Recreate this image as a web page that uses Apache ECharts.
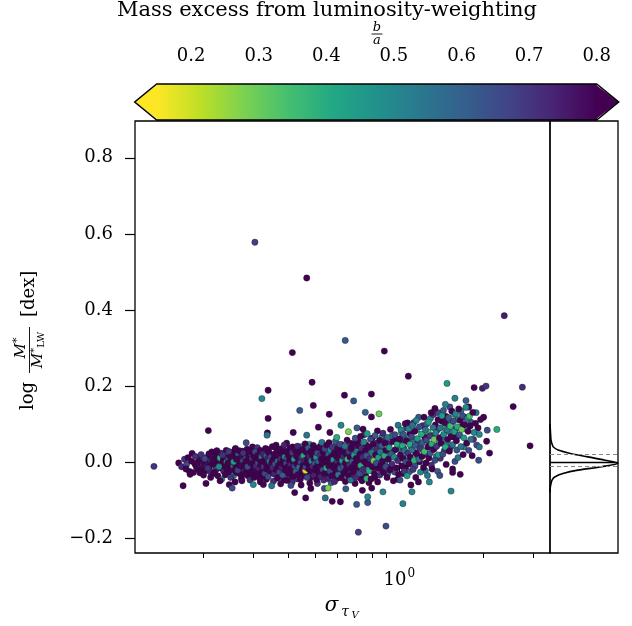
<!DOCTYPE html>
<html><head><meta charset="utf-8">
<script src="https://cdn.jsdelivr.net/npm/echarts@6/dist/echarts.min.js"></script>
<style>html,body{margin:0;padding:0;background:#fff}#c{width:632px;height:626px}</style>
</head><body><div id="c"></div>
<script>
// ---------- data (sigma_tauV, log M*/M*_LW, b/a) ----------
const outliers = [
[0.305,0.578,0.68],[0.467,0.484,0.88],[2.37,0.385,0.75],[0.641,0.320,0.62],[0.415,0.288,0.88],
[0.884,0.292,0.88],[0.488,0.210,0.88],[1.077,0.226,0.88],[1.48,0.207,0.45],[1.85,0.196,0.88],
[1.98,0.194,0.75],[2.04,0.200,0.70],[2.75,0.197,0.72],[0.340,0.189,0.88],[0.323,0.167,0.50],
[0.637,0.176,0.88],[0.795,0.179,0.88],[0.687,0.161,0.62],[0.441,0.136,0.62],[0.493,0.149,0.88],
[0.340,0.115,0.88],[0.562,0.126,0.88],[0.756,0.131,0.60],[0.846,0.127,0.30],[0.795,0.119,0.88],
[2.55,0.146,0.88],[2.93,0.043,0.88],[2.23,0.086,0.40],[0.208,0.083,0.86],[0.133,-0.011,0.70],
[0.169,-0.062,0.88],[0.204,-0.056,0.89],[0.714,-0.184,0.68],[0.896,-0.168,0.65],[1.53,-0.076,0.50],
[1.03,-0.109,0.52],[1.11,-0.078,0.50],[0.874,-0.078,0.50],[0.704,-0.111,0.62],[0.771,-0.106,0.62],
[0.576,-0.103,0.88],[0.616,-0.104,0.88],[0.544,-0.094,0.55],[0.463,-0.094,0.88],[0.423,-0.080,0.86],
[0.338,0.077,0.88],[0.337,0.071,0.55],[0.514,0.092,0.88],[0.619,0.097,0.50],[0.658,0.080,0.28],
[0.706,0.090,0.62],[0.742,0.087,0.88],[0.835,0.082,0.88],[0.990,0.097,0.55],[1.07,0.103,0.88],
[1.58,0.168,0.52],[1.73,0.162,0.62],[1.46,0.152,0.52],[1.73,0.144,0.50],[2.00,0.118,0.88],
[0.284,0.051,0.66],[0.260,0.036,0.88]
];
const bandLow = [
[0.163,-0.002,0.88],[0.167,-0.012,0.73],[0.174,-0.006,0.66],[0.178,-0.024,0.90],[0.179,-0.032,0.84],
[0.182,0.023,0.86],[0.181,0.003,0.92],[0.186,-0.004,0.82],[0.188,-0.011,0.90],[0.191,-0.018,0.87],
[0.193,0.007,0.80],[0.195,-0.009,0.72],[0.197,-0.017,0.91],[0.199,0.012,0.73],[0.201,0.000,0.86],
[0.203,-0.022,0.83],[0.205,0.001,0.90],[0.206,-0.008,0.78],[0.208,0.015,0.88],[0.210,-0.013,0.92],
[0.211,-0.025,0.73],[0.213,0.004,0.70],[0.214,0.027,0.87],[0.215,-0.004,0.84],[0.217,-0.030,0.89],
[0.218,0.009,0.91],[0.220,0.016,0.83],[0.221,-0.010,0.86],[0.222,-0.019,0.66],[0.224,0.002,0.88],
[0.225,-0.036,0.90],[0.226,0.020,0.80],[0.228,-0.003,0.93],[0.229,0.011,0.40],[0.230,-0.015,0.87],
[0.231,0.024,0.73],[0.232,-0.045,0.55],[0.233,-0.007,0.82],[0.235,0.005,0.89],[0.236,-0.024,0.74],
[0.237,0.014,0.86],[0.238,-0.001,0.91],[0.240,-0.012,0.88],[0.241,0.031,0.84],[0.242,0.001,0.40],
[0.243,-0.020,0.86],[0.245,0.008,0.68],[0.246,-0.029,0.90],[0.247,-0.059,0.87],[0.248,0.018,0.89],
[0.249,-0.005,0.73],[0.250,-0.014,0.92],[0.251,0.004,0.80],[0.253,-0.068,0.66],[0.253,-0.022,0.88],
[0.254,0.026,0.87],[0.255,-0.009,0.60],[0.256,-0.035,0.55],[0.257,0.010,0.90],[0.258,-0.002,0.84],
[0.259,0.033,0.88],[0.260,-0.018,0.86],[0.261,0.003,0.72],[0.262,-0.027,0.89],[0.263,0.016,0.83],
[0.264,-0.007,0.91],[0.266,0.021,0.62],[0.267,-0.013,0.87],[0.268,0.007,0.73],[0.270,-0.031,0.88],
[0.271,-0.001,0.90],[0.272,0.013,0.78],[0.273,-0.043,0.86],[0.274,-0.020,0.84],[0.275,0.029,0.89],
[0.276,0.002,0.66],[0.278,-0.010,0.92],[0.279,0.019,0.87],[0.280,-0.024,0.73],[0.282,-0.004,0.88],
[0.283,0.008,0.50],[0.285,-0.016,0.86],[0.286,0.034,0.90],[0.288,-0.036,0.83],[0.289,0.000,0.89],
[0.290,0.015,0.86],[0.292,-0.008,0.74],[0.293,-0.027,0.88],[0.294,0.023,0.91],[0.296,0.005,0.73],
[0.297,0.023,0.40],[0.298,-0.015,0.87],[0.299,0.040,0.86]
];
const bandMid = [
[0.301,-0.059,0.50],[0.302,-0.004,0.88],[0.304,0.012,0.86],[0.305,-0.021,0.90],[0.306,0.027,0.67],
[0.308,-0.010,0.72],[0.309,0.003,0.89],[0.310,-0.033,0.87],[0.312,0.018,0.91],[0.313,-0.002,0.66],
[0.315,-0.016,0.74],[0.316,0.008,0.88],[0.318,-0.044,0.86],[0.319,0.031,0.90],[0.320,-0.007,0.83],
[0.322,0.014,0.55],[0.323,-0.025,0.88],[0.325,0.001,0.92],[0.326,0.022,0.74],[0.327,-0.059,0.87],
[0.328,-0.012,0.70],[0.330,0.006,0.89],[0.331,-0.030,0.67],[0.333,0.036,0.86],[0.334,-0.003,0.90],
[0.335,0.016,0.62],[0.336,-0.018,0.87],[0.339,0.009,0.74],[0.340,-0.038,0.66],[0.342,0.025,0.88],
[0.343,-0.008,0.91],[0.345,0.002,0.45],[0.346,-0.022,0.86],[0.348,0.013,0.67],[0.350,-0.062,0.55],
[0.350,-0.001,0.89],[0.352,0.041,0.87],[0.353,-0.014,0.72],[0.355,0.007,0.90],[0.357,-0.031,0.74],
[0.358,0.020,0.88],[0.360,0.040,0.87],[0.360,-0.005,0.65],[0.362,0.011,0.86],[0.364,-0.019,0.92],
[0.365,0.029,0.83],[0.367,-0.042,0.88],[0.368,0.003,0.60],[0.370,-0.010,0.89],[0.371,0.017,0.86],
[0.373,-0.026,0.67],[0.375,0.034,0.90],[0.376,-0.001,0.87],[0.377,-0.057,0.88],[0.378,0.009,0.72],
[0.380,-0.015,0.74],[0.382,0.022,0.91],[0.383,-0.034,0.62],[0.385,0.005,0.88],[0.387,-0.006,0.86],
[0.388,0.045,0.74],[0.390,0.014,0.50],[0.392,-0.021,0.89],[0.393,0.028,0.87],[0.395,-0.003,0.67],
[0.397,-0.048,0.90],[0.398,0.010,0.66],[0.400,-0.012,0.88],[0.402,0.019,0.86],[0.404,-0.029,0.91],
[0.405,0.004,0.80],[0.407,0.036,0.87],[0.409,-0.007,0.74],[0.410,-0.061,0.66],[0.411,0.013,0.89],
[0.413,-0.017,0.86],[0.415,0.025,0.70],[0.417,-0.038,0.88],[0.418,0.078,0.87],[0.419,0.001,0.90],
[0.421,0.008,0.45],[0.423,-0.011,0.67],[0.425,0.031,0.88],[0.427,-0.024,0.62],[0.429,0.016,0.89],
[0.431,-0.004,0.86],[0.433,0.042,0.74],[0.435,-0.033,0.88],[0.437,0.006,0.91],[0.439,-0.014,0.55],
[0.441,0.022,0.87],[0.443,-0.045,0.86],[0.445,0.000,0.67],[0.447,0.012,0.72],[0.449,-0.020,0.88],
[0.451,0.033,0.90],[0.453,-0.008,0.86],[0.455,0.017,0.40],[0.457,-0.030,0.89],[0.459,0.004,0.74],
[0.461,0.048,0.87],[0.462,-0.022,0.18],[0.463,-0.013,0.66],[0.465,0.026,0.86],[0.467,0.071,0.55],
[0.467,-0.002,0.91],[0.469,-0.040,0.67],[0.471,0.009,0.87],[0.473,0.037,0.62],[0.475,-0.018,0.88],
[0.477,0.015,0.74],[0.479,-0.055,0.86],[0.481,-0.006,0.90],[0.483,-0.069,0.88],[0.483,0.028,0.83],
[0.485,0.003,0.50],[0.487,-0.025,0.87],[0.489,0.020,0.89],[0.491,-0.011,0.72],[0.493,0.044,0.86],
[0.495,-0.035,0.74],[0.497,0.008,0.90],[0.499,-0.003,0.64],[0.501,0.031,0.87],[0.503,-0.016,0.88],
[0.505,0.013,0.45],[0.507,-0.046,0.86],[0.509,0.024,0.67],[0.511,-0.008,0.89],[0.514,0.002,0.60],
[0.516,-0.027,0.87],[0.518,0.039,0.86],[0.520,-0.012,0.90],[0.523,0.018,0.72],[0.525,-0.038,0.74],
[0.527,0.007,0.88],[0.529,0.052,0.55],[0.531,-0.004,0.87],[0.533,-0.020,0.66],[0.535,0.026,0.89],
[0.538,0.011,0.86],[0.540,-0.069,0.66],[0.540,-0.030,0.88],[0.542,0.035,0.67],[0.544,-0.007,0.90],
[0.547,0.017,0.87],[0.549,-0.015,0.40],[0.551,0.045,0.88],[0.553,0.003,0.86],[0.556,-0.043,0.74],
[0.557,-0.068,0.28],[0.558,0.021,0.62],[0.560,-0.010,0.89],[0.563,0.009,0.87],[0.565,0.078,0.86],
[0.565,-0.024,0.67],[0.568,0.032,0.50],[0.570,-0.002,0.88],[0.572,0.014,0.90],[0.575,-0.036,0.86],
[0.577,0.040,0.70],[0.580,-0.013,0.87],[0.582,0.006,0.45],[0.585,0.024,0.88],[0.587,-0.051,0.74],
[0.590,-0.006,0.89],[0.592,0.055,0.62],[0.595,0.016,0.86],[0.598,0.065,0.40],[0.598,-0.021,0.87],
[0.600,0.003,0.72],[0.603,0.036,0.88],[0.605,-0.033,0.55],[0.608,0.010,0.86],[0.610,-0.008,0.90],
[0.613,0.047,0.67],[0.616,-0.016,0.62],[0.619,0.022,0.87]
];
const bandHigh = [
[0.622,-0.041,0.86],[0.625,0.004,0.45],[0.627,0.030,0.88],[0.630,-0.012,0.66],[0.633,0.015,0.72],
[0.636,-0.028,0.89],[0.639,0.042,0.55],[0.642,-0.002,0.86],[0.644,-0.070,0.62],[0.645,0.021,0.84],
[0.648,-0.018,0.90],[0.651,0.058,0.88],[0.654,0.008,0.35],[0.657,-0.036,0.86],[0.660,0.027,0.70],
[0.663,-0.007,0.72],[0.667,0.013,0.88],[0.670,-0.047,0.55],[0.673,0.036,0.86],[0.676,-0.015,0.89],
[0.679,0.002,0.62],[0.682,0.049,0.85],[0.686,-0.026,0.88],[0.689,0.018,0.45],[0.692,-0.005,0.90],
[0.696,0.063,0.66],[0.699,-0.040,0.72],[0.702,0.010,0.86],[0.706,0.029,0.55],[0.709,-0.012,0.88],
[0.713,0.044,0.84],[0.716,0.004,0.89],[0.720,-0.030,0.66],[0.724,0.022,0.86],[0.727,0.068,0.88],
[0.728,-0.009,0.40],[0.732,0.037,0.72],[0.736,-0.049,0.86],[0.738,-0.074,0.88],[0.740,0.013,0.72],
[0.744,-0.019,0.72],[0.748,0.053,0.50],[0.752,0.001,0.89],[0.756,0.030,0.86],[0.760,-0.038,0.85],
[0.764,0.017,0.62],[0.765,-0.043,0.38],[0.768,0.075,0.45],[0.771,-0.091,0.50],[0.772,-0.006,0.88],
[0.776,0.041,0.86],[0.780,-0.023,0.40],[0.785,0.009,0.72],[0.789,0.060,0.66],[0.793,-0.044,0.88],
[0.797,-0.068,0.88],[0.797,0.025,0.55],[0.802,-0.012,0.86],[0.806,0.047,0.89],[0.810,0.004,0.30],
[0.815,-0.031,0.86],[0.819,0.070,0.62],[0.823,0.019,0.88],[0.828,-0.003,0.66],[0.832,0.035,0.72],
[0.837,-0.052,0.86],[0.841,0.012,0.45],[0.846,-0.017,0.89],[0.850,0.057,0.86],[0.855,0.027,0.55],
[0.860,-0.008,0.88],[0.865,0.043,0.62],[0.870,0.002,0.86],[0.874,0.076,0.72],[0.879,-0.027,0.88],
[0.884,0.017,0.40],[0.889,0.050,0.86],[0.894,-0.012,0.66],[0.899,0.031,0.88],[0.904,-0.040,0.86],
[0.909,0.065,0.55],[0.915,0.008,0.89],[0.920,0.038,0.45],[0.925,-0.020,0.86],[0.930,0.086,0.88],
[0.936,0.022,0.62],[0.941,-0.005,0.72],[0.947,0.054,0.86],[0.952,-0.049,0.88],[0.958,0.013,0.50],
[0.964,0.072,0.66],[0.970,0.033,0.86],[0.976,-0.015,0.88],[0.982,0.047,0.40],[0.988,0.004,0.72],
[0.994,-0.032,0.86]
];
const bandTail = [
[1.003,0.061,0.86],[1.006,-0.047,0.65],[1.01,0.020,0.88],[1.015,0.085,0.50],[1.02,-0.010,0.86],
[1.025,0.043,0.40],[1.03,0.010,0.89],[1.035,0.073,0.62],[1.04,-0.024,0.70],[1.045,0.030,0.55],
[1.05,0.101,0.88],[1.055,0.001,0.66],[1.06,0.056,0.86],[1.066,-0.036,0.45],[1.072,0.024,0.70],
[1.08,0.088,0.52],[1.083,-0.005,0.88],[1.09,0.047,0.40],[1.095,0.013,0.86],[1.10,-0.060,0.88],
[1.105,0.067,0.66],[1.11,0.032,0.55],[1.115,0.097,0.55],[1.12,-0.019,0.70],[1.13,0.005,0.38],
[1.135,0.081,0.86],[1.14,0.044,0.62],[1.145,-0.040,0.88],[1.15,0.110,0.52],[1.155,0.021,0.86],
[1.16,0.062,0.45],[1.17,-0.052,0.88],[1.175,0.008,0.55],[1.18,0.093,0.66],[1.185,0.036,0.70],
[1.19,-0.026,0.50],[1.20,0.074,0.40],[1.205,0.015,0.86],[1.21,0.052,0.62],[1.22,-0.014,0.88],
[1.225,0.118,0.86],[1.23,0.028,0.35],[1.24,0.085,0.55],[1.245,-0.002,0.86],[1.25,0.058,0.66],
[1.26,-0.035,0.55],[1.265,0.040,0.88],[1.27,0.105,0.45],[1.275,0.011,0.86],[1.28,-0.052,0.50],
[1.285,0.069,0.70],[1.29,0.024,0.62],[1.30,0.130,0.86],[1.305,0.048,0.40],[1.31,-0.018,0.86],
[1.32,0.091,0.55],[1.325,0.033,0.88],[1.33,0.060,0.30],[1.34,0.141,0.88],[1.34,0.005,0.66],
[1.35,0.077,0.52],[1.36,0.042,0.70],[1.37,-0.024,0.62],[1.375,0.112,0.86],[1.38,0.019,0.45],
[1.39,0.064,0.88],[1.395,-0.035,0.65],[1.40,0.090,0.55],[1.41,0.050,0.86],[1.42,0.122,0.45],
[1.43,0.021,0.66],[1.44,0.073,0.50],[1.45,0.104,0.88],[1.46,0.040,0.40],[1.47,-0.006,0.86],
[1.48,0.085,0.55],[1.49,0.060,0.86],[1.50,0.117,0.62],[1.51,0.029,0.88],[1.52,0.095,0.35],
[1.53,0.068,0.86],[1.54,0.134,0.88],[1.55,0.046,0.55],[1.55,-0.018,0.88],[1.55,-0.027,0.86],
[1.56,0.108,0.66],[1.57,0.080,0.45],[1.58,0.002,0.65],[1.59,0.127,0.50],[1.60,0.056,0.86],
[1.61,0.093,0.40],[1.62,0.012,0.55],[1.63,0.140,0.86],[1.64,0.072,0.62],[1.65,-0.032,0.88],
[1.65,0.110,0.88],[1.66,0.041,0.55],[1.67,0.086,0.30],[1.68,0.122,0.66],[1.69,0.020,0.86],
[1.70,0.064,0.45],[1.71,0.099,0.88],[1.74,0.050,0.86],[1.75,0.115,0.55],[1.76,0.081,0.88],
[1.77,0.031,0.66],[1.78,0.121,0.35],[1.79,0.095,0.86],[1.80,0.060,0.55],[1.82,0.017,0.88],
[1.83,0.131,0.86],[1.85,0.078,0.50],[1.87,0.102,0.88],[1.89,0.045,0.66],[1.92,0.005,0.65],
[1.93,0.073,0.50],[1.93,0.040,0.55],[1.95,0.112,0.86],[2.05,0.055,0.88],[2.06,0.084,0.65],
[2.10,0.024,0.86]
];
const bandFill = [
[0.171,0.008,0.71],[0.173,-0.018,0.90],[0.176,0.012,0.88],[0.184,-0.027,0.85],[0.187,0.015,0.72],
[0.190,-0.002,0.89],[0.194,-0.028,0.88],[0.196,0.020,0.71],[0.200,-0.034,0.92],[0.202,0.009,0.66],
[0.207,-0.016,0.71],[0.209,0.022,0.90],[0.212,-0.040,0.88],[0.216,0.004,0.85],[0.219,-0.026,0.87],
[0.223,0.030,0.89],[0.227,-0.012,0.50],[0.229,-0.049,0.88],[0.234,0.019,0.71],[0.239,-0.033,0.90],
[0.244,-0.003,0.88],[0.246,0.028,0.70],[0.250,-0.040,0.71],[0.252,0.013,0.89],[0.256,0.001,0.45],
[0.259,-0.052,0.88],[0.262,0.008,0.87],[0.265,-0.021,0.68],[0.268,0.030,0.88],[0.270,-0.009,0.85],
[0.274,-0.049,0.90],[0.277,0.024,0.71],[0.281,-0.031,0.88],[0.284,0.004,0.90],[0.287,-0.012,0.66],
[0.291,0.028,0.88],[0.293,-0.047,0.71],[0.295,-0.002,0.89],[0.298,0.010,0.70],[0.299,-0.028,0.88],
[0.301,0.021,0.87],[0.303,-0.040,0.89],[0.306,0.004,0.66],[0.309,-0.026,0.88],[0.311,0.038,0.71],
[0.314,-0.011,0.90],[0.317,0.019,0.72],[0.319,-0.052,0.88],[0.321,0.002,0.71],[0.324,-0.035,0.89],
[0.327,0.029,0.60],[0.329,-0.006,0.88],[0.332,0.011,0.71],[0.335,-0.045,0.88],[0.338,-0.013,0.45],
[0.341,0.033,0.87],[0.344,-0.028,0.89],[0.347,0.005,0.71],[0.349,-0.016,0.72],[0.352,0.020,0.88],
[0.355,-0.050,0.71],[0.357,0.000,0.90],[0.361,-0.024,0.66],[0.363,0.045,0.88],[0.366,-0.009,0.71],
[0.369,0.026,0.87],[0.372,-0.036,0.89],[0.374,0.012,0.55],[0.378,-0.020,0.88],[0.381,0.004,0.71],
[0.384,0.037,0.68],[0.386,-0.047,0.88],[0.389,-0.010,0.90],[0.391,0.019,0.71],[0.394,-0.029,0.88],
[0.396,0.050,0.87],[0.399,0.002,0.40],[0.403,-0.040,0.71],[0.406,0.026,0.88],[0.408,-0.016,0.70],
[0.412,0.007,0.89],[0.414,-0.053,0.71],[0.416,0.040,0.88],[0.420,-0.027,0.71],[0.424,0.014,0.62],
[0.426,-0.005,0.88],[0.430,0.033,0.89],[0.432,-0.044,0.71],[0.436,0.019,0.88],[0.438,-0.021,0.72],
[0.442,0.006,0.71],[0.446,-0.060,0.88],[0.448,0.041,0.55],[0.452,-0.012,0.88],[0.456,0.024,0.71],
[0.458,-0.036,0.90],[0.462,0.011,0.66],[0.466,-0.028,0.88],[0.470,0.030,0.71],[0.474,-0.003,0.89],
[0.478,0.047,0.45],[0.482,-0.041,0.88],[0.486,0.015,0.71],[0.490,-0.018,0.60],[0.494,0.002,0.88],
[0.498,0.038,0.71],[0.502,-0.031,0.88],[0.506,0.006,0.90],[0.510,-0.056,0.71],[0.515,0.029,0.72],
[0.519,-0.006,0.88],[0.524,0.043,0.71],[0.528,-0.025,0.89],[0.532,0.015,0.50],[0.537,-0.047,0.71],
[0.541,0.002,0.88],[0.546,0.030,0.66],[0.550,-0.030,0.88],[0.555,0.008,0.71],[0.561,0.051,0.87],
[0.566,-0.016,0.89],[0.571,-0.054,0.62],[0.578,0.021,0.71],[0.583,-0.028,0.88],[0.589,0.040,0.50],
[0.594,-0.002,0.71],[0.600,-0.042,0.88],[0.606,0.028,0.71],[0.611,0.006,0.40],[0.617,-0.029,0.88],
[0.623,0.046,0.71],[0.628,-0.019,0.88],[0.632,0.003,0.62],[0.637,0.027,0.71],[0.642,-0.051,0.88],
[0.647,0.038,0.45],[0.652,-0.009,0.71],[0.656,0.018,0.88],[0.661,-0.026,0.66],[0.666,0.050,0.71],
[0.671,0.005,0.88],[0.675,-0.033,0.71],[0.680,0.028,0.55],[0.685,-0.012,0.88],[0.690,0.040,0.71],
[0.695,-0.056,0.88],[0.700,0.017,0.40],[0.705,-0.020,0.71],[0.711,0.056,0.88],[0.715,-0.001,0.62],
[0.721,0.034,0.71],[0.726,-0.042,0.88],[0.731,0.010,0.71],[0.737,0.027,0.50],[0.743,-0.010,0.88],
[0.749,0.072,0.71],[0.754,-0.028,0.62],[0.759,0.046,0.88],[0.766,0.003,0.71],[0.773,0.020,0.35],
[0.779,-0.054,0.88],[0.786,0.038,0.71],[0.792,-0.003,0.66],[0.799,0.063,0.88],[0.805,-0.022,0.71],
[0.812,0.028,0.55],[0.818,-0.040,0.88],[0.825,0.050,0.71],[0.831,0.009,0.45],[0.839,-0.014,0.88],
[0.844,0.040,0.62],[0.852,-0.034,0.71],[0.858,0.015,0.88],[0.866,0.066,0.50],[0.872,-0.019,0.71],
[0.880,0.030,0.88],[0.887,-0.002,0.55],[0.895,0.058,0.71],[0.902,0.013,0.88],[0.910,-0.030,0.62],
[0.918,0.046,0.71],[0.926,0.021,0.40],[0.934,-0.011,0.88],[0.944,0.070,0.55],[0.954,0.030,0.71],
[0.962,-0.026,0.66],[0.972,0.058,0.88],[0.980,0.010,0.71],[0.986,-0.045,0.88],[0.996,0.036,0.50],
[1.004,0.012,0.62],[1.012,0.050,0.71],[1.018,0.077,0.45],[1.028,-0.030,0.88],[1.037,0.036,0.71],
[1.047,0.062,0.55],[1.052,-0.015,0.88],[1.062,0.090,0.66],[1.068,0.015,0.40],[1.078,0.052,0.71],
[1.087,-0.025,0.62],[1.092,0.075,0.88],[1.102,0.039,0.45],[1.108,0.005,0.71],[1.118,0.060,0.55],
[1.125,0.104,0.71],[1.138,-0.010,0.66],[1.142,0.025,0.88],[1.152,0.085,0.40],[1.165,0.050,0.71],
[1.172,0.118,0.62],[1.182,0.001,0.88],[1.195,0.043,0.52],[1.212,0.096,0.71],[1.218,0.030,0.45],
[1.232,0.066,0.88],[1.238,-0.022,0.55],[1.252,0.100,0.62],[1.258,0.020,0.71],[1.268,0.079,0.35],
[1.282,0.046,0.88],[1.292,0.115,0.50],[1.302,-0.008,0.71],[1.312,0.070,0.62],[1.322,0.125,0.71],
[1.335,0.036,0.45],[1.345,0.098,0.88],[1.355,0.015,0.55],[1.368,0.085,0.71],[1.378,0.130,0.66],
[1.385,0.050,0.40],[1.40,0.010,0.71],[1.415,0.108,0.88],[1.425,0.066,0.55],[1.438,0.136,0.62],
[1.448,0.030,0.71],[1.458,0.090,0.35],[1.468,0.120,0.88],[1.475,0.054,0.50],[1.49,0.100,0.71],
[1.505,0.080,0.45],[1.515,0.145,0.66],[1.525,0.040,0.71],[1.54,0.105,0.55],[1.56,0.066,0.88],
[1.575,0.125,0.40],[1.59,0.088,0.71],[1.605,0.032,0.62],[1.62,0.112,0.50],[1.635,0.070,0.71],
[1.66,0.135,0.55],[1.68,0.095,0.88],[1.70,0.040,0.50],[1.72,0.118,0.71],[1.745,0.085,0.45],
[1.77,0.145,0.88],[1.80,0.105,0.62],[1.84,0.060,0.71],[1.88,0.130,0.55],[1.91,0.090,0.88]
];
// marginal distribution of log M*/M*_LW
const histValue   = [0.100,0.085,0.070,0.058,0.048,0.040,0.032,0.023,0.014,0.005,-0.003,-0.012,-0.021,-0.030,-0.039,-0.047,-0.056,-0.065,-0.080];
const histDensity = [0.0,0.005,0.01,0.015,0.03,0.05,0.12,0.30,0.56,0.81,1.0,0.76,0.41,0.19,0.07,0.03,0.015,0.005,0.0];
const histMedian = [-0.002];
const histPercentiles = [0.0166, -0.015];
// tick labels
const yTicks = [-0.2,0.0,0.2,0.4,0.6,0.8];
const xMajorTicks = [1];
const xMinorTicks = [0.2,0.3,0.4,0.5,0.6,0.7,0.8,0.9,2,3];
const cbTicks = [0.2,0.3,0.4,0.5,0.6,0.7,0.8];

// ---------- settings ----------
const FONT = 'DejaVu Serif';
const xMin = 0.1138, xMax = 3.452;
const yMin = -0.2387, yMax = 0.8966;
const cbMin = 0.149, cbMax = 0.8;
const viridis = ['#440154','#482475','#414487','#355f8d','#2a788e','#21918c','#22a884','#44bf70','#7ad151','#bddf26','#fde725'];
function hex2rgb(h){return [1,3,5].map(i=>parseInt(h.substr(i,2),16));}
function viridisAt(t){
  const s=Math.max(0,Math.min(1,t))*10, i=Math.min(9,Math.floor(s)), f=s-i;
  const a=hex2rgb(viridis[i]), b=hex2rgb(viridis[i+1]);
  return 'rgb('+a.map((v,k)=>Math.round(v+(b[k]-v)*f)).join(',')+')';
}
function colorFor(v){ return viridisAt(1-(v-cbMin)/(cbMax-cbMin)); }
const vmColors = []; for(let k=0;k<=100;k++) vmColors.push(colorFor(k/100));

const points = [].concat(bandLow, bandFill, bandMid, outliers, bandHigh, bandTail);

const chart = echarts.init(document.getElementById('c'), null, {renderer:'canvas'});
const txt = {fontFamily:FONT, color:'#000'};
chart.setOption({
  animation:false,
  backgroundColor:'#fff',
  grid:[
    {left:135, top:121, width:415, height:432, show:true, borderColor:'#000', borderWidth:1.3, backgroundColor:'transparent'},
    {left:550, top:121, width:68, height:432, show:true, borderColor:'#000', borderWidth:1.3, backgroundColor:'transparent'},
    {left:156.7, top:84, width:440, height:36}
  ],
  xAxis:[
    {type:'log', gridIndex:0, position:'bottom', min:xMin, max:xMax, splitLine:{show:false}, axisLine:{show:false},
     axisTick:{show:true, customValues:xMajorTicks, length:10, lineStyle:{color:'#000', width:1.2}},
     minorTick:{show:false},
     axisLabel:{customValues:xMajorTicks, margin:15, formatter:()=>'{b|10}{e|0}',
       rich:{b:{fontFamily:FONT,fontSize:18,color:'#000'}, e:{fontFamily:FONT,fontSize:12,color:'#000',padding:[0,0,12,1]}}}},
    {type:'log', gridIndex:0, position:'bottom', min:xMin, max:xMax, splitLine:{show:false}, axisLine:{show:false},
     axisTick:{show:true, customValues:xMinorTicks, length:5, lineStyle:{color:'#000', width:1}},
     axisLabel:{show:false}},
    {type:'value', gridIndex:1, min:0, max:1, show:false},
    {type:'value', gridIndex:2, position:'top', min:cbMin, max:cbMax, splitLine:{show:false}, axisLine:{show:false},
     axisTick:{show:true, customValues:cbTicks, length:10, lineStyle:{color:'#000', width:1.2}},
     axisLabel:Object.assign({customValues:cbTicks, margin:19, fontSize:18, formatter:v=>v.toFixed(1)}, txt)}
  ],
  yAxis:[
    {type:'value', gridIndex:0, min:yMin, max:yMax, splitLine:{show:false}, axisLine:{show:false},
     axisTick:{show:true, customValues:yTicks, length:10, lineStyle:{color:'#000', width:1.2}},
     axisLabel:Object.assign({customValues:yTicks, margin:22, fontSize:18,
       formatter:v=>(v<-1e-9?'\u2212':'')+Math.abs(v).toFixed(1)}, txt)},
    {type:'value', gridIndex:1, min:yMin, max:yMax, show:false},
    {type:'value', gridIndex:2, min:0, max:1, show:false}
  ],
  visualMap:[{type:'continuous', show:false, seriesIndex:0, dimension:2, min:0, max:1, inRange:{color:vmColors}}],
  series:[
    {type:'scatter', xAxisIndex:0, yAxisIndex:0, data:points, symbolSize:6.3,
     itemStyle:{borderColor:'rgba(20,20,20,0.7)', borderWidth:0.5, opacity:1}, silent:true},
    {type:'line', xAxisIndex:2, yAxisIndex:1, data:histDensity.map((d,i)=>[d,histValue[i]]),
     symbol:'none', smooth:0.3, lineStyle:{color:'#000', width:1.6}, silent:true,
     markLine:{silent:true, symbol:['none','none'], label:{show:false},
       data:[
         {yAxis:histMedian[0], lineStyle:{color:'#000', width:1.4, type:'solid'}},
         {yAxis:histPercentiles[0], lineStyle:{color:'#888', width:1.1, type:[4,3]}},
         {yAxis:histPercentiles[1], lineStyle:{color:'#888', width:1.1, type:[4,3]}}
       ]}},
    {type:'custom', xAxisIndex:3, yAxisIndex:2, data:[[cbMin,0]], clip:false, silent:true, z:5,
     renderItem:(params, api)=>{
       const p0 = api.coord([cbMin,1]), p1 = api.coord([cbMax,0]);
       const x0=p0[0], y0=p0[1], x1=p1[0], y1=p1[1], ym=(y0+y1)/2, tip=0.05*(x1-x0);
       const stops = viridis.map((c,j)=>({offset:j/10, color:viridis[10-j]}));
       return {type:'group', children:[
         {type:'polygon', shape:{points:[[x0-tip,ym],[x0+2,y0],[x0+2,y1]]}, style:{fill:viridis[10]}},
         {type:'polygon', shape:{points:[[x1-2,y0],[x1+tip,ym],[x1-2,y1]]}, style:{fill:viridis[0]}},
         {type:'rect', shape:{x:x0,y:y0,width:x1-x0,height:y1-y0}, style:{fill:new echarts.graphic.LinearGradient(0,0,1,0,stops)}},
         {type:'polygon', shape:{points:[[x0,y0],[x1,y0],[x1+tip,ym],[x1,y1],[x0,y1],[x0-tip,ym]]}, style:{fill:'none', stroke:'#000', lineWidth:1.5}}
       ]};
     }}
  ],
  graphic:[
    {type:'text', x:327, y:11, style:{text:'Mass excess from luminosity-weighting', fontFamily:FONT, fontSize:21, fill:'#000', align:'center', verticalAlign:'middle'}},
    {type:'text', x:377, y:28, style:{text:'b', fontFamily:FONT, fontStyle:'italic', fontSize:13, fill:'#000', align:'center', verticalAlign:'middle'}},
    {type:'line', shape:{x1:371.5, y1:34, x2:382.5, y2:34}, style:{stroke:'#000', lineWidth:0.9}},
    {type:'text', x:377, y:41, style:{text:'a', fontFamily:FONT, fontStyle:'italic', fontSize:13, fill:'#000', align:'center', verticalAlign:'middle'}},
    {type:'group', x:0, y:338, rotation:Math.PI/2, children:[
      {type:'text', x:-72, y:28, style:{text:'log', fontFamily:FONT, fontSize:18, fill:'#000', align:'left', verticalAlign:'middle'}},
      {type:'text', x:-10, y:21, style:{text:'{m|M}{s|*}', align:'center', verticalAlign:'middle',
        rich:{m:{fontFamily:FONT,fontStyle:'italic',fontSize:15,fill:'#000'}, s:{fontFamily:FONT,fontSize:11,fill:'#000',padding:[0,0,7,0]}}}},
      {type:'line', shape:{x1:-35, y1:29.5, x2:11, y2:29.5}, style:{stroke:'#000', lineWidth:0.9}},
      {type:'text', x:-12, y:38, style:{text:'{m|M}{s|*}{l|LW}', align:'center', verticalAlign:'middle',
        rich:{m:{fontFamily:FONT,fontStyle:'italic',fontSize:15,fill:'#000'}, s:{fontFamily:FONT,fontSize:10,fill:'#000',padding:[0,0,7,0]}, l:{fontFamily:FONT,fontSize:10,fill:'#000',padding:[7,0,0,0]}}}},
      {type:'text', x:21, y:29, style:{text:'[dex]', fontFamily:FONT, fontSize:18, fill:'#000', align:'left', verticalAlign:'middle'}}
    ]},
    {type:'text', x:331.5, y:606, style:{text:'\u03c3', fontFamily:FONT, fontStyle:'italic', fontSize:20, fill:'#000', align:'center', verticalAlign:'middle'}},
    {type:'text', x:345, y:612, style:{text:'\u03c4', fontFamily:FONT, fontStyle:'italic', fontSize:14, fill:'#000', align:'center', verticalAlign:'middle'}},
    {type:'text', x:355, y:615, style:{text:'V', fontFamily:FONT, fontStyle:'italic', fontSize:10, fill:'#000', align:'center', verticalAlign:'middle'}}
  ]
});
</script></body></html>
